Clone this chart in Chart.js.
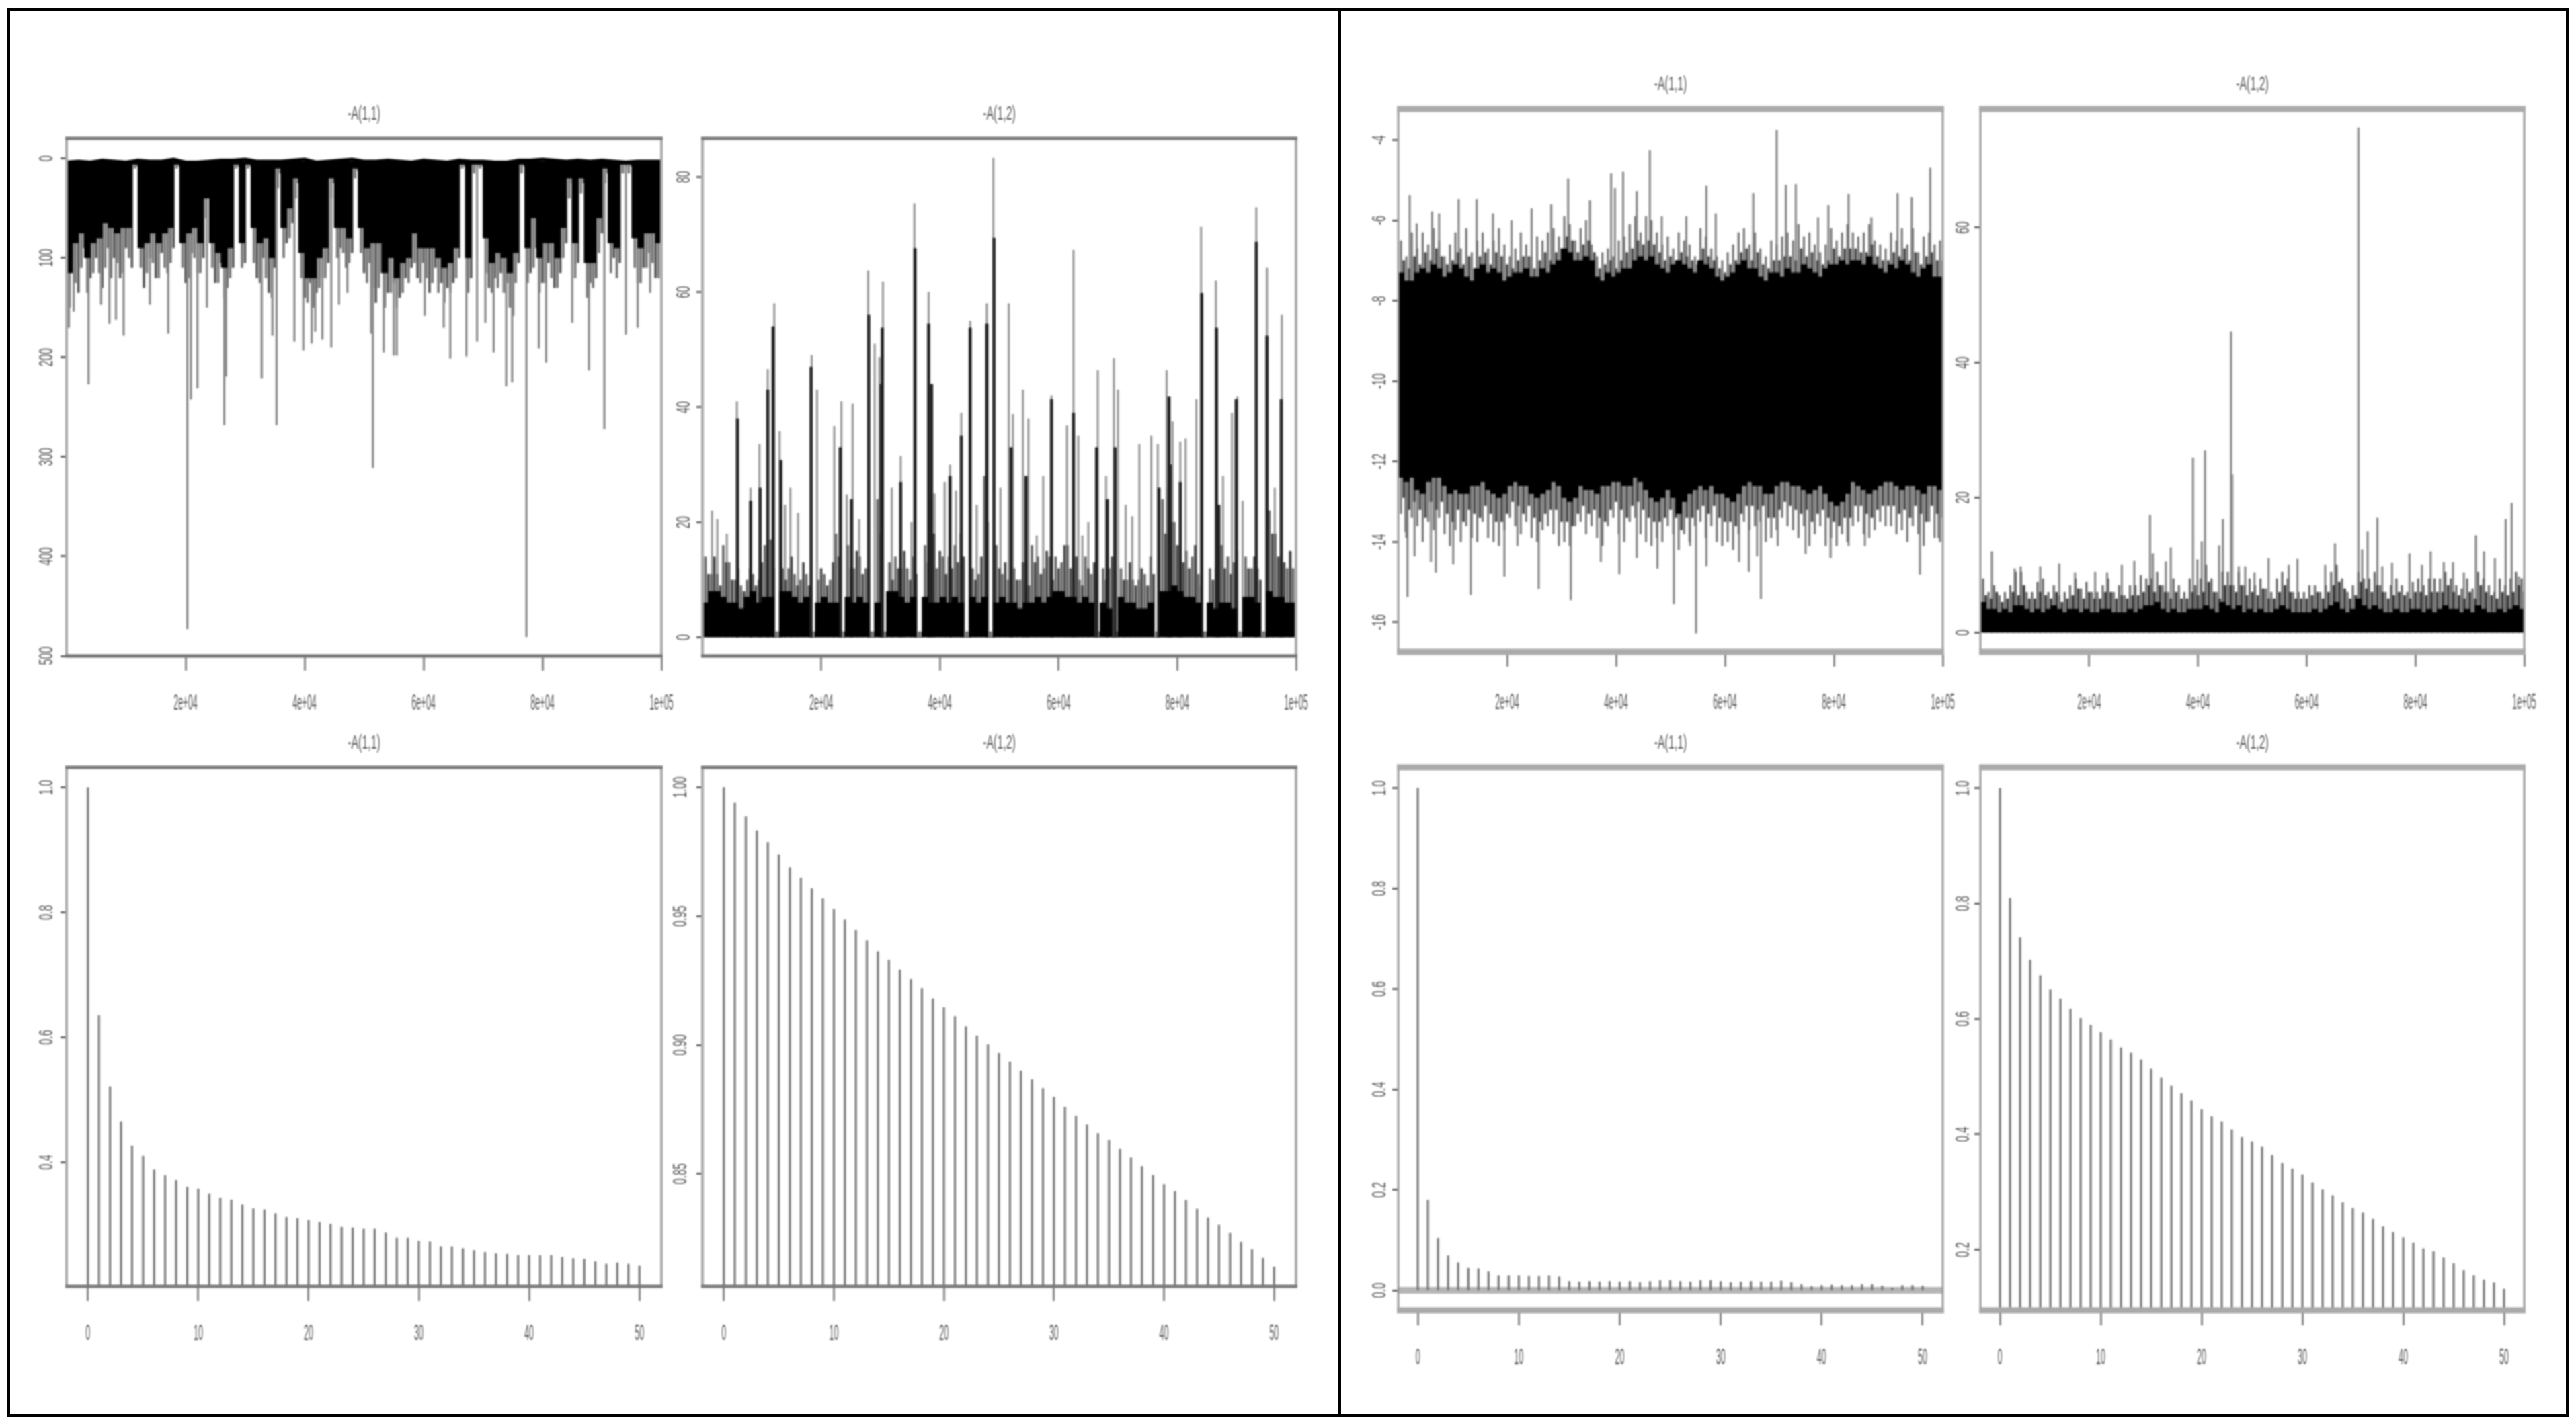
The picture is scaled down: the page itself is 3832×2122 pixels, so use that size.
<!DOCTYPE html>
<html>
<head>
<meta charset="utf-8">
<title>Trace and ACF plots</title>
<script src="https://cdn.jsdelivr.net/npm/chart.js@4.4.3/dist/chart.umd.js"></script>
<style>
  html, body { margin: 0; padding: 0; background: #fff; width: 3832px; height: 2122px; overflow: hidden; }
  #frame { position: absolute; left: 10px; top: 12px; width: 3812px; height: 2097px; border: 5px solid #000; box-sizing: border-box; }
  #divider { position: absolute; left: 1990px; top: 12px; width: 5px; height: 2097px; background: #000; }
  canvas { position: absolute; filter: blur(0.9px); }
</style>
</head>
<body>
<div id="frame"></div>
<div id="divider"></div>
<script>
// ---- axis ticks
const traceXTicks = [20000, 40000, 60000, 80000, 100000];
const traceXLabels = ["2e+04", "4e+04", "6e+04", "8e+04", "1e+05"];
const lagTicks = [0, 10, 20, 30, 40, 50];
const lagLabels = ["0", "10", "20", "30", "40", "50"];

const a11YTicks = [0, 100, 200, 300, 400, 500];
const a11YLabels = ["0", "100", "200", "300", "400", "500"];
const b12YTicks = [0, 20, 40, 60, 80];
const b12YLabels = ["0", "20", "40", "60", "80"];
const c11YTicks = [-4, -6, -8, -10, -12, -14, -16];
const c11YLabels = ["-4", "-6", "-8", "-10", "-12", "-14", "-16"];
const d12YTicks = [0, 20, 40, 60];
const d12YLabels = ["0", "20", "40", "60"];
const e11YTicks = [0.4, 0.6, 0.8, 1.0];
const e11YLabels = ["0.4", "0.6", "0.8", "1.0"];
const f12YTicks = [0.85, 0.90, 0.95, 1.00];
const f12YLabels = ["0.85", "0.90", "0.95", "1.00"];
const g11YTicks = [0, 0.2, 0.4, 0.6, 0.8, 1.0];
const g11YLabels = ["0.0", "0.2", "0.4", "0.6", "0.8", "1.0"];
const h12YTicks = [0.2, 0.4, 0.6, 0.8, 1.0];
const h12YLabels = ["0.2", "0.4", "0.6", "0.8", "1.0"];

// ---- iteration bins used for the dense part of the trace plots
const binX = [500,1500,2500,3500,4500,5500,6500,7500,8500,9500,10500,11500,12500,13500,14500,15500,16500,17500,18500,19500,
  20500,21500,22500,23500,24500,25500,26500,27500,28500,29500,30500,31500,32500,33500,34500,35500,36500,37500,38500,39500,
  40500,41500,42500,43500,44500,45500,46500,47500,48500,49500,50500,51500,52500,53500,54500,55500,56500,57500,58500,59500,
  60500,61500,62500,63500,64500,65500,66500,67500,68500,69500,70500,71500,72500,73500,74500,75500,76500,77500,78500,79500,
  80500,81500,82500,83500,84500,85500,86500,87500,88500,89500,90500,91500,92500,93500,94500,95500,96500,97500,98500,99500];
const edgeX = [1000,2000,3000,4000,5000,6000,7000,8000,9000,10000,11000,12000,13000,14000,15000,16000,17000,18000,19000,20000,
  21000,22000,23000,24000,25000,26000,27000,28000,29000,30000,31000,32000,33000,34000,35000,36000,37000,38000,39000,40000,
  41000,42000,43000,44000,45000,46000,47000,48000,49000,50000,51000,52000,53000,54000,55000,56000,57000,58000,59000,60000,
  61000,62000,63000,64000,65000,66000,67000,68000,69000,70000,71000,72000,73000,74000,75000,76000,77000,78000,79000,80000,
  81000,82000,83000,84000,85000,86000,87000,88000,89000,90000,91000,92000,93000,94000,95000,96000,97000,98000,99000,100000];

// ---- top left, -A(1,1) trace
const a11Band = [115,85,75,100,85,80,65,70,75,70,70,6,90,85,75,85,75,70,6,85,75,70,85,40,85,95,110,90,6,85,6,70,85,80,100,10,70,50,20,95,
  120,120,100,90,20,70,70,80,10,70,90,85,85,115,100,120,105,100,75,90,90,90,100,110,105,90,6,100,6,6,80,105,95,100,115,95,6,90,60,100,
  85,85,100,70,20,85,20,105,105,60,10,85,90,6,6,80,90,75,75,85];
const a11Grey = [150,125,110,135,115,115,110,120,105,115,100,10,110,115,105,120,110,105,10,110,120,100,115,60,110,125,140,120,10,110,10,105,125,120,140,30,100,80,40,120,
  145,150,130,120,40,100,95,105,20,95,125,130,130,150,135,150,135,125,105,125,120,125,135,145,135,120,10,135,15,10,115,135,130,135,150,125,15,125,110,135,
  125,120,130,100,40,120,35,140,130,95,25,115,120,15,15,110,125,110,105,120];
const a11Grey2 = [100,135,90,120,100,130,90,100,120,90,110,8,130,100,120,95,115,90,8,125,95,115,100,30,125,105,130,110,8,105,8,120,100,135,110,15,85,65,25,140,
  125,135,120,105,25,90,110,95,12,115,105,145,115,135,125,140,120,110,120,105,135,110,125,130,125,100,8,120,8,8,130,120,115,125,130,105,8,115,90,125,
  105,130,115,85,25,105,25,125,120,75,15,100,105,8,8,125,110,95,120,105];
const a11SpikeX = [400,1200,3700,5800,7200,8300,9600,14000,17100,20300,20900,22000,23600,26500,26800,32800,34600,35300,38300,39800,41200,41800,43000,44500,45800,47200,
  51200,51500,53300,55000,55500,60200,63400,64500,67200,69000,70400,71800,73900,74900,75100,77300,79400,80600,85000,87800,90400,94000,96000,98100];
const a11SpikeVal = [170,154,227,147,166,162,178,147,176,473,242,231,150,268,219,221,178,268,184,193,186,174,182,190,147,135,
  176,311,195,198,198,158,170,201,199,184,165,195,229,225,158,481,191,205,165,213,272,177,170,135];
const a11RidgeX = [0,2000,4000,6000,8000,10000,12000,14000,16000,18000,20000,22000,24000,26000,28000,30000,32000,34000,36000,38000,40000,42000,44000,46000,48000,50000,
  52000,54000,56000,58000,60000,62000,64000,66000,68000,70000,72000,74000,76000,78000,80000,82000,84000,86000,88000,90000,92000,94000,96000,98000,100000];
const a11RidgeVal = [4,3,4,2,3,4,2,3,3,1,4,4,3,2,2,1,3,3,3,2,1,4,3,2,1,3,
  3,2,3,4,2,3,4,2,3,3,4,4,2,2,1,2,3,2,3,2,3,4,3,3,3];

// ---- top middle-left, -A(1,2) trace
const b12Band = [6,8,8,7,6,6,5,7,8,6,7,7,0,8,8,7,6,7,0,6,7,6,6,0,7,6,7,6,0,6,0,8,8,7,6,7,0,7,6,6,
  7,6,7,6,0,7,6,7,0,6,7,6,6,5,6,6,7,6,7,8,8,7,7,6,7,6,0,6,5,0,7,6,6,5,5,6,0,8,8,9,
  8,7,7,6,0,6,5,6,6,5,0,7,7,6,0,8,7,7,6,6];
const b12Grey = [14,11,11,16,13,10,9,10,11,10,16,17,1,12,12,11,10,11,1,10,11,10,18,1,16,12,14,12,1,24,1,13,14,12,12,14,1,16,24,12,
  14,14,16,18,1,12,11,28,1,16,11,10,12,10,11,16,14,12,14,14,13,16,12,10,14,11,1,12,12,1,12,10,10,10,11,14,1,24,26,20,
  16,15,14,11,1,12,12,16,14,13,1,14,12,12,1,22,18,16,12,12];
const b12Grey2 = [11,14,9,13,10,12,8,12,9,13,14,12,1,10,14,9,13,9,1,12,9,13,14,1,12,15,11,10,1,18,1,10,12,15,10,11,1,13,18,15,
  11,12,13,14,1,10,14,20,1,12,13,9,10,13,9,13,11,15,10,12,16,12,14,9,12,13,1,10,14,1,10,13,9,12,9,11,1,18,20,16,
  13,12,16,9,1,10,14,12,11,15,1,12,14,10,1,18,14,13,15,10];
const b12SpikeX = [1600,2500,4100,5800,8100,9600,11000,12100,13000,13900,14800,16100,18400,19300,22200,23400,24300,25300,26400,27900,29000,29800,30400,31900,33400,35200,35700,38100,39100,40800,
  41700,42700,43600,45100,46200,47900,49000,50200,51600,52300,54000,54900,56300,57400,58800,61400,62500,63300,64000,65000,66600,68000,69300,70000,71300,72400,73600,75600,76700,78200,
  79200,80500,81400,83200,84000,86500,87700,89200,90100,91000,93300,95100,96400,97600,99100];
const b12SpikeVal = [22,20.5,18,41,26,33.6,46.6,58,35.8,23,26,21.6,49,43,36.7,41,24.8,40.6,20.5,63.7,51,48.7,61.8,26,31.5,20,75.4,60,25,27,
  30,25.5,39,55,23,58,83.3,26,58,38.8,43,38,17.7,28,42,36.8,67.3,35,17.7,20,46.4,28,48.5,43,23,21,33.6,35,33.6,46.4,
  37.5,34,34.5,41.4,71.3,62,28,39,41.8,23.7,74.7,64.2,26,56,14.9];
const b12DarkX = [5900,8100,9700,11000,11900,13200,18300,23200,25100,28000,30100,30300,33400,35800,38100,38600,41700,43600,45100,47900,49100,52000,54500,58800,
  62500,66400,68200,69500,76900,78600,78800,80500,84100,86600,87000,89900,93300,95100,97500];
const b12DarkVal = [38,23.7,26,43,54,30.8,47,33,24,56,44,53.8,27,67.6,54.5,44,28,35,53.8,54.5,69.4,33,28,41.4,
  39,33,24,33,26,41.8,30,27,59.8,53.8,23,41.4,68.7,52.4,41.4];

// ---- top middle-right, -A(1,1) trace
const c11Hi = [-7.3,-7.5,-7.5,-7.3,-7.2,-7.3,-7.1,-7.2,-7.4,-7.3,-7.1,-7.2,-7.4,-7.5,-7.2,-7.1,-7.3,-7.2,-7.3,-7.5,-7.4,-7.3,-7.3,-7.2,-7.4,-7.4,-7.2,-7.3,-7.1,-7.0,
  -6.7,-6.8,-7.0,-7.0,-6.9,-7.0,-7.4,-7.5,-7.3,-7.4,-7.3,-7.2,-7.2,-7.0,-6.9,-7.0,-6.9,-7.1,-7.2,-7.3,-7.1,-7.0,-7.1,-7.2,-7.3,-7.0,-7.1,-7.2,-7.4,-7.5,
  -7.4,-7.3,-7.1,-7.0,-7.2,-7.2,-7.4,-7.5,-7.3,-7.3,-7.4,-7.2,-7.3,-7.3,-7.1,-7.2,-7.3,-7.4,-7.2,-7.1,-7.1,-7.0,-7.1,-7.0,-7.0,-7.1,-6.9,-7.1,-7.2,-7.3,
  -7.1,-7.2,-7.0,-7.1,-7.3,-7.4,-7.2,-7.1,-7.4,-7.4];
const c11Lo = [-12.4,-12.5,-12.4,-12.7,-12.8,-12.5,-12.4,-12.4,-12.6,-12.8,-12.7,-12.8,-12.8,-12.6,-12.6,-12.5,-12.7,-12.8,-12.9,-12.8,-12.6,-12.5,-12.6,-12.6,-12.8,-12.9,-12.8,-12.7,-12.5,-12.6,
  -12.9,-13.0,-12.9,-12.6,-12.7,-12.7,-12.8,-12.6,-12.6,-12.5,-12.5,-12.6,-12.6,-12.4,-12.5,-12.7,-12.9,-13.0,-12.9,-12.7,-12.9,-13.3,-13.0,-12.8,-12.7,-12.6,-12.7,-12.6,-12.8,-12.8,
  -12.9,-13.0,-12.8,-12.6,-12.5,-12.6,-12.6,-12.8,-12.8,-12.6,-12.5,-12.5,-12.6,-12.6,-12.7,-12.8,-12.7,-12.6,-12.8,-13.0,-13.1,-13.0,-12.8,-12.5,-12.6,-12.7,-12.8,-12.7,-12.6,-12.5,
  -12.5,-12.6,-12.7,-12.6,-12.6,-12.7,-12.8,-12.6,-12.6,-12.7];
const c11GreyHi = [-6.5,-6.9,-6.3,-6.7,-6.3,-6.6,-6.2,-6.5,-6.9,-6.6,-6.3,-6.7,-6.2,-6.8,-6.5,-6.3,-6.7,-6.5,-6.2,-6.6,-6.9,-6.7,-6.3,-6.6,-6.9,-6.4,-6.5,-6.3,-6.2,-6.4,
  -5.9,-6.1,-6.5,-6.2,-6.0,-6.6,-6.9,-6.8,-6.7,-6.9,-6.5,-6.4,-6.1,-5.9,-6.3,-5.9,-6.0,-6.3,-6.6,-6.4,-6.7,-6.3,-6.5,-6.6,-6.9,-6.2,-6.4,-6.7,-6.9,-7.0,
  -6.8,-6.6,-6.3,-6.2,-6.6,-6.3,-6.7,-6.9,-6.5,-6.6,-6.4,-6.3,-6.5,-6.1,-6.4,-6.3,-6.6,-6.8,-6.6,-6.2,-6.5,-6.3,-6.1,-6.3,-6.4,-6.3,-6.1,-6.5,-6.6,-6.7,
  -6.3,-6.5,-6.2,-6.6,-6.2,-6.8,-6.4,-6.3,-6.6,-6.5];
const c11GreyLo = [-13.3,-13.9,-13.4,-13.6,-14,-13.5,-13.7,-13.4,-13.8,-14.1,-13.7,-14,-13.6,-13.9,-14,-13.5,-13.9,-14,-14.1,-13.7,-13.4,-13.6,-13.8,-13.5,-13.9,-14,-13.7,-13.6,-13.8,-14.1,
  -14,-14.1,-13.6,-13.5,-13.8,-13.6,-13.9,-14.1,-13.6,-13.4,-13.8,-14,-13.5,-13.4,-13.8,-14,-14.1,-13.9,-14,-13.6,-13.8,-14.2,-13.8,-14,-13.6,-13.5,-13.9,-13.6,-14,-14.1,
  -14,-14.2,-13.8,-13.5,-13.7,-13.6,-13.5,-14,-13.9,-13.7,-13.4,-13.6,-13.7,-13.9,-13.6,-14.1,-13.8,-13.6,-14.1,-13.9,-14.1,-13.8,-14,-13.6,-13.5,-13.8,-13.9,-13.7,-13.5,-13.6,
  -13.6,-13.8,-13.7,-14,-13.6,-13.8,-14.1,-13.5,-13.9,-14];
const c11Grey2Hi = [-7.0,-7.2,-6.9,-7.1,-6.8,-7.0,-6.7,-6.9,-7.1,-7.0,-6.8,-7.1,-6.9,-7.2,-6.9,-6.8,-7.1,-6.8,-6.9,-7.1,-7.2,-7.0,-6.9,-6.9,-7.2,-7.0,-6.8,-7.0,-6.8,-6.7,
  -6.4,-6.5,-6.8,-6.6,-6.5,-6.8,-7.2,-7.1,-7.0,-7.2,-7.0,-6.8,-6.7,-6.5,-6.6,-6.5,-6.6,-6.8,-7.0,-6.9,-7.0,-6.8,-6.9,-7.0,-7.1,-6.7,-6.9,-7.0,-7.2,-7.3,
  -7.1,-7.0,-6.8,-6.7,-7.0,-6.8,-7.1,-7.2,-7.0,-7.0,-6.9,-6.9,-7.0,-6.7,-6.9,-6.8,-7.0,-7.1,-7.0,-6.7,-6.9,-6.7,-6.7,-6.7,-6.8,-6.8,-6.6,-6.9,-7.0,-7.0,
  -6.8,-6.9,-6.7,-7.0,-6.8,-7.1,-6.9,-6.8,-7.0,-7.0];
const c11Grey2Lo = [-12.9,-13.2,-13.0,-13.2,-13.4,-13.0,-13.2,-13.0,-13.3,-13.5,-13.2,-13.5,-13.2,-13.3,-13.4,-13.1,-13.3,-13.5,-13.5,-13.3,-13.0,-13.1,-13.3,-13.1,-13.4,-13.5,-13.3,-13.2,-13.2,-13.5,
  -13.5,-13.6,-13.3,-13.1,-13.3,-13.2,-13.4,-13.5,-13.2,-13.0,-13.2,-13.4,-13.1,-13.0,-13.2,-13.4,-13.5,-13.5,-13.4,-13.2,-13.4,-13.7,-13.4,-13.4,-13.2,-13.1,-13.3,-13.1,-13.4,-13.5,
  -13.5,-13.6,-13.3,-13.1,-13.1,-13.2,-13.1,-13.4,-13.4,-13.2,-13.0,-13.1,-13.2,-13.3,-13.2,-13.5,-13.3,-13.2,-13.4,-13.5,-13.6,-13.4,-13.4,-13.1,-13.1,-13.3,-13.4,-13.2,-13.1,-13.1,
  -13.1,-13.3,-13.2,-13.4,-13.1,-13.3,-13.5,-13.1,-13.3,-13.4];
const c11UpX = [2100,3400,6200,7500,11100,14400,17400,20800,24500,28100,31200,35200,39100,39800,41300,43800,46200,48400,52900,56600,58300,65200,69500,71200,73000,77100,79000,82700,86900,91700,94300,97700];
const c11UpVal = [-5.37,-6.08,-5.78,-5.83,-5.47,-5.47,-5.83,-6,-5.7,-5.6,-4.96,-5.5,-4.83,-5.2,-4.79,-5.27,-4.25,-5.9,-5.9,-5.14,-5.83,-5.32,-3.75,-5.12,-5.1,-5.93,-5.62,-5.34,-5.93,-5.32,-5.42,-4.69];
const c11DownX = [1300,1700,3000,6000,6900,10100,13300,19500,21900,25800,31700,37200,40600,43800,47600,50600,53600,54700,56600,62600,64400,65900,66600,69700,74800,79400,82700,85700,95800,99200];
const c11DownVal = [-13.75,-15.37,-14.36,-14.5,-14.76,-14.56,-15.32,-14.86,-14.1,-15.17,-15.45,-14.5,-14.8,-14.4,-14.66,-15.55,-14.1,-16.28,-14.6,-14.5,-14.74,-14.36,-15.42,-14.1,-14.3,-14.4,-14.1,-14.1,-14.81,-13.9];

// ---- top right, -A(1,2) trace
const d12Band = [4.5,3.5,3.5,3,3.5,3,4,4,3.5,3,3.5,3,3.5,4,3.5,3,3.5,3.5,3,3.5,3,3,3.5,3.5,3,3,3,3.5,3,3.5,4,4,4.5,3.5,3,3.5,3,3,3.5,3.5,
  3.5,4,3.5,3,4.5,4,3.5,4,3,3.5,3,3.5,3,3,3.5,4,3.5,3,3,3,3,3.5,3,3.5,4,4.5,3.5,3,3.5,5,4,3.5,4,3.5,3,3,3.5,3,3,3.5,
  3.5,3,3.5,3,3.5,4,3.5,3.5,3,3.5,3,4,3.5,3,3,3.5,3,3.5,4,3.5];
const d12Grey = [8,6,7,5.5,6,7,9,9,6,6,7.5,8,6,7,5.5,6,7,8,6.5,7.5,6,6,7,8,6,7,5.5,7,7,8.5,8,8,9,7,6,8,7,6,8,7,
  8,10,8,6,9,9,7,9,7,8,7,8,6.5,6,8,9,8,6,6,6,7,7,6,7,9,10,8,6,7,9,8,8,9,7,6,7,8,7,6,7.5,
  8,7,8,8,8,9,8,7,6.5,8,6.5,9,8,7,6,8,7,8,9,8];
const d12Grey2 = [5.5,5,6,4.5,5,6,5.5,7,5,5,6,5.5,5,6,4.5,5,5.5,6.5,5,6,5,5,6,6,5,5.5,5,5.5,5.5,6,7,6,7,6,5,6,5,5,6,5.5,
  6,7.5,6,5,7,7,6,7,5.5,6,5.5,6.5,5,5,6,7,6,5,5,5,5.5,6,5,6,7,7.5,6.5,5,5.5,7.5,6.5,6,7,6,5,5.5,6,5.5,5,6,
  6,5.5,6,6,6,7,6,5.5,5,6,5,7,6,5.5,5,6,5.5,6,7,6];
const d12SpikeX = [2100,6300,7400,11000,14500,17400,21100,23300,26000,28300,31200,31700,34100,35000,39100,39900,40700,41300,43900,44600,46100,46300,47500,48700,50400,
  53000,56700,58300,63400,65200,69500,70200,71200,73000,73900,75700,78900,81200,82800,85200,86900,88900,91100,92600,94600,96600,97700,99000];
const d12SpikeVal = [12,9.5,9.8,9.8,10.2,8.9,9,8.9,10,10.6,17.4,11.7,10.5,12.6,25.9,10.8,13.5,27,12.9,16.8,44.6,23.4,9.8,9.8,8.9,
  11,10,10.9,10,13.2,74.8,12.3,15,17,9.8,10.3,11.7,10,12,10.4,10.4,8.9,14.4,12,11,16.8,19.2,8.3];

// ---- autocorrelation panels
const lags = [0,1,2,3,4,5,6,7,8,9,10,11,12,13,14,15,16,17,18,19,20,21,22,23,24,25,26,27,28,29,30,31,32,33,34,35,36,37,38,39,40,41,42,43,44,45,46,47,48,49,50];
const e11Acf = [1,.635,.521,.465,.426,.410,.388,.379,.371,.360,.357,.349,.343,.340,.332,.326,.324,.318,.312,.310,.307,.304,.301,.296,.295,.293,.293,.287,.279,.279,.274,.273,.265,.265,.262,.259,.256,.254,.253,.251,.251,.251,.251,.248,.246,.245,.241,.237,.239,.237,.234];
const f12Acf = [1,.9939,.9886,.9832,.9786,.9738,.9689,.9648,.9607,.9568,.9527,.9486,.9445,.9405,.9363,.9330,.9291,.9255,.9220,.9180,.9145,.9111,.9071,.9036,.9002,.8968,.8934,.8900,.8866,.8832,.8798,.8759,.8725,.8691,.8657,.8630,.8596,.8563,.8529,.8495,.8459,.8432,.8398,.8364,.8330,.8302,.8270,.8236,.8207,.8173,.8139];
const g11Acf = [1,.18,.104,.069,.055,.044,.043,.037,.029,.029,.029,.028,.028,.029,.027,.018,.017,.018,.017,.018,.017,.018,.016,.018,.02,.02,.018,.017,.02,.02,.018,.016,.017,.018,.017,.017,.019,.016,.012,.008,.01,.011,.01,.01,.012,.012,.009,.005,.01,.01,.009];
const h12Acf = [1,.809,.741,.702,.675,.651,.635,.617,.601,.589,.577,.564,.550,.541,.529,.513,.498,.484,.471,.458,.443,.431,.422,.408,.395,.387,.378,.364,.350,.340,.330,.316,.304,.294,.282,.272,.264,.253,.240,.230,.221,.212,.202,.197,.186,.176,.164,.155,.148,.143,.132];
const zeroLineX = [-2, 52];
const zeroLineVal = [0, 0];

// ---- helpers
const labelFont = '"Liberation Sans", sans-serif';
const MARGIN = { left: 60, right: 60, top: 60, bottom: 100 };
// the scan is squeezed sideways, there is no condensed font so text is narrowed when drawn
const squeezeBySize = { 30: 0.53, 34: 0.37, 29: 0.56 };

const points = (xs, ys) => xs.map((x, i) => ({ x: x, y: ys[i] }));
const floating = (xs, lows, highs) => xs.map((x, i) => ({ x: x, y: [lows[i], highs[i]] }));
const fromBase = (xs, base, ys) => xs.map((x, i) => ({ x: x, y: [base, ys[i]] }));

function bars(data, thickness, color, order) {
  return { type: "bar", data: data, barThickness: thickness, backgroundColor: color, borderWidth: 0, grouped: false, order: order };
}
function line(data, width, color, order) {
  return { type: "line", data: data, borderColor: color, borderWidth: width, pointRadius: 0, tension: 0, fill: false, order: order };
}

function narrowText(ctx) {
  const fill = ctx.fillText.bind(ctx);
  ctx.fillText = (text, x, y) => {
    const k = squeezeBySize[parseInt(ctx.font.match(/(\d+)px/)[1])] || 1;
    ctx.save();
    ctx.translate(x, y);
    ctx.scale(k, 1);
    fill(text, 0, 0);
    ctx.restore();
  };
}

// box round the plot, heavier along top and bottom like the scanned figure
const panelBox = {
  id: "panelBox",
  afterLayout(chart) {
    // title goes over the middle of the plot, not of the canvas
    const t = chart.titleBlock, a = chart.chartArea;
    t.left = a.left;
    t.right = a.right;
    t.width = a.right - a.left;
  },
  afterDatasetsDraw(chart, args, opts) {
    const a = chart.chartArea, c = chart.ctx;
    c.save();
    c.strokeStyle = opts.sideColor;
    c.lineWidth = opts.sideWidth;
    c.beginPath();
    c.moveTo(a.left, a.top); c.lineTo(a.left, a.bottom);
    c.moveTo(a.right, a.top); c.lineTo(a.right, a.bottom);
    c.stroke();
    c.strokeStyle = opts.edgeColor;
    c.lineWidth = opts.edgeWidth;
    c.beginPath();
    c.moveTo(a.left - 2, a.top); c.lineTo(a.right + 2, a.top);
    c.moveTo(a.left - 2, a.bottom); c.lineTo(a.right + 2, a.bottom);
    c.stroke();
    c.restore();
  }
};

function makePanel(p) {
  const canvas = document.createElement("canvas");
  const w = p.right - p.left, h = p.bottom - p.top;
  canvas.width = w + MARGIN.left + MARGIN.right;
  canvas.height = h + MARGIN.top + MARGIN.bottom;
  canvas.style.left = (p.left - MARGIN.left) + "px";
  canvas.style.top = (p.top - MARGIN.top) + "px";
  document.body.appendChild(canvas);
  narrowText(canvas.getContext("2d"));

  new Chart(canvas, {
    type: "bar",
    data: { datasets: p.datasets },
    plugins: [panelBox],
    options: {
      responsive: false,
      animation: false,
      devicePixelRatio: 1,
      events: [],
      layout: { autoPadding: false, padding: { left: 0, top: 0, right: MARGIN.right, bottom: 0 } },
      plugins: {
        legend: { display: false },
        tooltip: { enabled: false },
        title: {
          display: true, text: p.title, color: "#555",
          font: { family: labelFont, size: 30, weight: "normal", lineHeight: 1 },
          padding: { top: 9, bottom: 21 }
        },
        panelBox: p.box
      },
      scales: {
        x: {
          type: "linear", offset: false, min: p.xMin, max: p.xMax,
          afterBuildTicks: s => { s.ticks = p.xTicks.map(v => ({ value: v })); },
          afterFit: s => { s.height = MARGIN.bottom; s.paddingLeft = 0; s.paddingRight = 0; },
          border: { display: false },
          grid: { display: true, offset: false, drawOnChartArea: false, drawTicks: true, tickLength: 22, tickWidth: 3, tickColor: "#888" },
          ticks: {
            autoSkip: false, maxRotation: 0, minRotation: 0, padding: p.xPad, color: "#555",
            font: { family: labelFont, size: 34 },
            callback: (v, i) => p.xLabels[i]
          }
        },
        y: {
          type: "linear", min: p.yMin, max: p.yMax, reverse: !!p.reverse,
          afterBuildTicks: s => { s.ticks = p.yTicks.map(v => ({ value: v })); },
          afterFit: s => { s.width = MARGIN.left; s.paddingTop = 0; s.paddingBottom = 0; },
          border: { display: false },
          grid: { display: true, drawOnChartArea: false, drawTicks: true, tickLength: 9, tickWidth: 3, tickColor: "#666" },
          ticks: {
            autoSkip: false, minRotation: 90, maxRotation: 90, crossAlign: "center", padding: p.yPad, color: "#555",
            font: { family: labelFont, size: 29 },
            callback: (v, i) => p.yLabels[i]
          }
        }
      }
    }
  });
}

const lightBox = { sideColor: "#aaa", sideWidth: 4, edgeColor: "#777", edgeWidth: 5 };
const heavyBox = { sideColor: "#999", sideWidth: 3, edgeColor: "#aaa", edgeWidth: 9 };
const traceAxis = { xMin: 0, xMax: 100000, xTicks: traceXTicks, xLabels: traceXLabels };
const lagAxis = { xMin: -1.94, xMax: 52, xTicks: lagTicks, xLabels: lagLabels };

makePanel({
  ...traceAxis, title: "-A(1,1)", left: 99, right: 984, top: 206, bottom: 976, xPad: 28, yPad: -4, box: lightBox,
  yMin: -20, yMax: 500, reverse: true, yTicks: a11YTicks, yLabels: a11YLabels,
  datasets: [
    line(points(a11RidgeX, a11RidgeVal), 5, "#000", 0),
    bars(fromBase(binX, 3, a11Band), 9, "#000", 1),
    bars(fromBase(a11SpikeX, 3, a11SpikeVal), 2.5, "#888", 2),
    bars(fromBase(edgeX, 3, a11Grey2), 3, "#555", 3),
    bars(fromBase(binX, 3, a11Grey), 3, "#777", 4)
  ]
});
makePanel({
  ...traceAxis, title: "-A(1,2)", left: 1045, right: 1928, top: 206, bottom: 976, xPad: 28, yPad: 2, box: lightBox,
  yMin: -3.2, yMax: 86.7, yTicks: b12YTicks, yLabels: b12YLabels,
  datasets: [
    bars(points(binX, b12Band), 9, "#000", 0),
    bars(points(b12DarkX, b12DarkVal), 4, "#222", 1),
    bars(points(edgeX, b12Grey2), 3, "#444", 2),
    bars(points(binX, b12Grey), 3, "#666", 3),
    bars(points(b12SpikeX, b12SpikeVal), 2.5, "#999", 4)
  ]
});
makePanel({
  ...traceAxis, title: "-A(1,1)", left: 2080, right: 2890, top: 162, bottom: 970, xPad: 33, yPad: -3, box: heavyBox,
  yMin: -16.74, yMax: -3.22, yTicks: c11YTicks, yLabels: c11YLabels,
  datasets: [
    bars(floating(binX, c11Lo, c11Hi), 9, "#000", 0),
    bars(floating(edgeX, c11Grey2Lo, c11Grey2Hi), 3, "#444", 1),
    bars(floating(binX, c11GreyLo, c11GreyHi), 2.5, "#777", 2),
    bars(fromBase(c11UpX, -8, c11UpVal), 2.5, "#888", 3),
    bars(fromBase(c11DownX, -12, c11DownVal), 2.5, "#888", 3)
  ]
});
makePanel({
  ...traceAxis, title: "-A(1,2)", left: 2946, right: 3755, top: 162, bottom: 970, xPad: 33, yPad: 0, box: heavyBox,
  yMin: -2.84, yMax: 77.6, yTicks: d12YTicks, yLabels: d12YLabels,
  datasets: [
    bars(points(binX, d12Band), 9, "#000", 0),
    bars(points(edgeX, d12Grey2), 3, "#333", 1),
    bars(points(binX, d12Grey), 2.5, "#666", 2),
    bars(points(d12SpikeX, d12SpikeVal), 2.5, "#888", 3)
  ]
});
makePanel({
  ...lagAxis, title: "-A(1,1)", left: 99, right: 984, top: 1142, bottom: 1914, xPad: 28, yPad: 0, box: lightBox,
  yMin: 0.2015, yMax: 1.032, yTicks: e11YTicks, yLabels: e11YLabels,
  datasets: [bars(points(lags, e11Acf), 2.5, "#777", 0)]
});
makePanel({
  ...lagAxis, title: "-A(1,2)", left: 1045, right: 1928, top: 1142, bottom: 1914, xPad: 28, yPad: -5, box: lightBox,
  yMin: 0.8064, yMax: 1.0077, yTicks: f12YTicks, yLabels: f12YLabels,
  datasets: [bars(points(lags, f12Acf), 2.5, "#777", 0)]
});
makePanel({
  ...lagAxis, title: "-A(1,1)", left: 2080, right: 2890, top: 1142, bottom: 1950, xPad: 28, yPad: -2, box: heavyBox,
  yMin: -0.04, yMax: 1.041, yTicks: g11YTicks, yLabels: g11YLabels,
  datasets: [
    bars(points(lags, g11Acf), 2.5, "#777", 0),
    line(points(zeroLineX, zeroLineVal), 10, "#b5b5b5", 1)
  ]
});
makePanel({
  ...lagAxis, title: "-A(1,2)", left: 2946, right: 3755, top: 1142, bottom: 1950, xPad: 28, yPad: -4, box: heavyBox,
  yMin: 0.0947, yMax: 1.036, yTicks: h12YTicks, yLabels: h12YLabels,
  datasets: [bars(points(lags, h12Acf), 2.5, "#777", 0)]
});
</script>
</body>
</html>
